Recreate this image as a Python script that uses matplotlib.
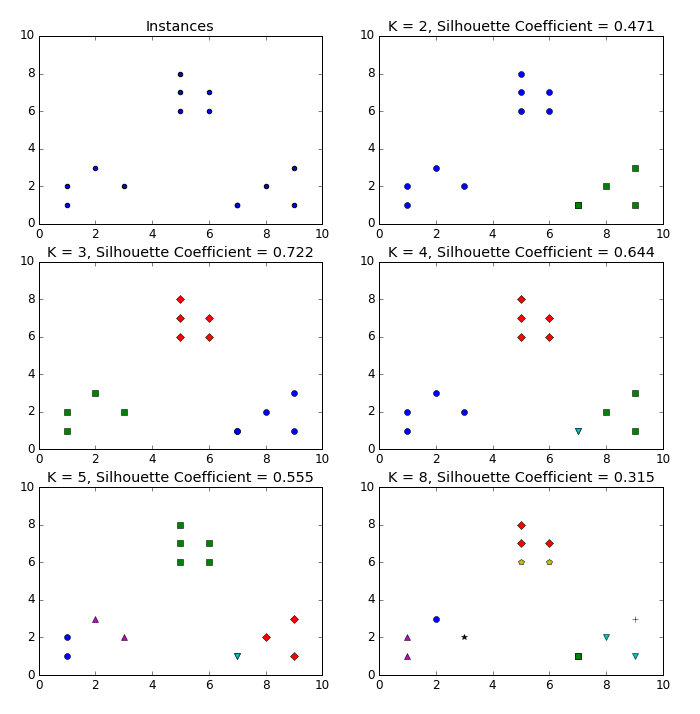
import numpy as np
import matplotlib
matplotlib.use('Agg')
import matplotlib.pyplot as plt

plt.style.use('classic')

# Instances
x1 = np.array([1, 2, 3, 1, 5, 6, 5, 5, 6, 7, 8, 9, 7, 9])
x2 = np.array([1, 3, 2, 2, 8, 6, 7, 6, 7, 1, 2, 1, 1, 3])

colors = ['b', 'g', 'r', 'c', 'm', 'y', 'k', 'b']
markers = ['o', 's', 'D', 'v', '^', 'p', '*', '+']

# cluster labels per K
k_values = [2, 3, 4, 5, 8]
scores = [0.471, 0.722, 0.644, 0.555, 0.315]
labels = {
    2: [0, 0, 0, 0, 0, 0, 0, 0, 0, 1, 1, 1, 1, 1],
    3: [1, 1, 1, 1, 2, 2, 2, 2, 2, 0, 0, 0, 0, 0],
    4: [0, 0, 0, 0, 2, 2, 2, 2, 2, 3, 1, 1, 3, 1],
    5: [0, 4, 4, 0, 1, 1, 1, 1, 1, 3, 2, 2, 3, 2],
    8: [4, 0, 6, 4, 2, 5, 2, 5, 2, 1, 3, 3, 1, 7],
}

# rendered at 72 dpi so the classic point sizes match the reference
fig = plt.figure(figsize=(700 / 72, 714 / 72), dpi=72)
fig.subplots_adjust(left=0.055, right=0.947, bottom=0.0546, top=0.9496,
                    wspace=0.2, hspace=0.2)

ax = fig.add_subplot(3, 2, 1)
ax.set_xlim([0, 10])
ax.set_ylim([0, 10])
ax.set_title('Instances')
ax.scatter(x1, x2)

for n, (k, score) in enumerate(zip(k_values, scores)):
    ax = fig.add_subplot(3, 2, n + 2)
    lab = labels[k]
    for i, l in enumerate(lab):
        ax.plot(x1[i], x2[i], color=colors[l], marker=markers[l], ls='None')
    ax.set_xlim([0, 10])
    ax.set_ylim([0, 10])
    ax.set_title('K = %s, Silhouette Coefficient = %.03f' % (k, score))

plt.savefig('out.png', dpi=72)
